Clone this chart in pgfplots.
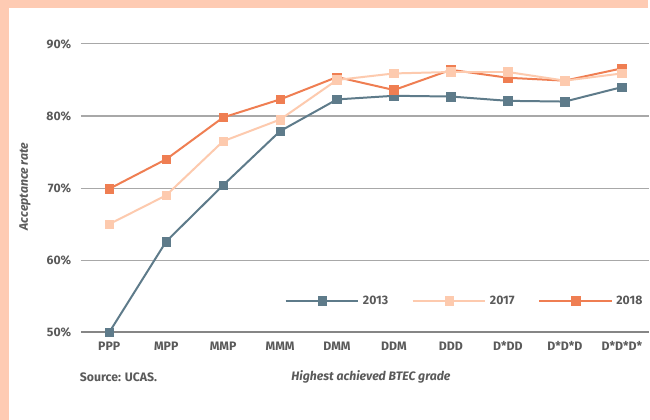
\documentclass[border=0pt]{standalone}
\usepackage{pgfplots}
\pgfplotsset{compat=1.18}
\usepackage{fontspec}
\setmainfont{Fira Sans}
\definecolor{peach}{HTML}{FECBB3}
\definecolor{cA}{HTML}{5E7B8A}
\definecolor{cB}{HTML}{FDCAAE}
\definecolor{cC}{HTML}{EF7E52}
\definecolor{txt}{HTML}{5A5A5A}
\definecolor{grd}{HTML}{A8A8A8}
\newcommand{\fs}{\fontsize{12.3}{14}\selectfont\bfseries}
\begin{document}
\begin{tikzpicture}[x=1pt,y=1pt]
\fill[peach] (0,0) rectangle (650,421);
\fill[white] (9,0) rectangle (650,413);
\begin{axis}[
  at={(81pt,87.7pt)}, anchor=south west,
  scale only axis, width=570pt, height=289.3pt,
  xmin=-0.5, xmax=9.48, ymin=50, ymax=90,
  axis line style={draw=none},
  major tick length=0pt,
  xtick={0,...,9},
  xticklabels={PPP,MPP,MMP,MMM,DMM,DDM,DDD,D*DD,D*D*D,D*D*D*},
  ytick={50,60,70,80,90},
  yticklabels={50\%,60\%,70\%,80\%,90\%},
  ymajorgrids,
  grid style={draw=grd, line width=1.1pt},
  extra y ticks={50}, extra y tick labels={},
  extra y tick style={grid style={draw=grd!80!black, line width=1.8pt}},
  ticklabel style={font=\fs, text=txt},
  yticklabel style={xshift=-6pt},
  xticklabel style={yshift=-6pt},
  clip=false,
  legend columns=3,
  legend style={draw=none, fill=none, at={(1.0,0.109)}, anchor=east,
    font=\fs, text=txt,
    /tikz/every even column/.append style={column sep=20pt},
    nodes={inner sep=3.5pt}},
  legend image code/.code={\draw[mark repeat=2,mark phase=2] plot coordinates {(0pt,0pt)(36.5pt,0pt)(73pt,0pt)};},
  every axis plot/.append style={line width=2pt, mark=square*, mark size=4.3pt},
]
\addplot[cA, mark options={solid, line width=0.5pt}] coordinates {
(0,50.0)(1,62.6)(2,70.4)(3,77.9)(4,82.3)(5,82.8)(6,82.7)(7,82.1)(8,82.0)(9,84.0)};
\addplot[cC, mark options={solid, line width=0.5pt}, forget plot] coordinates {
(0,69.9)(1,74.0)(2,79.8)(3,82.3)(4,85.4)(5,83.6)(6,86.4)(7,85.3)(8,84.9)(9,86.6)};
\addplot[cB, mark options={solid, line width=0.5pt}] coordinates {
(0,65.0)(1,69.0)(2,76.5)(3,79.5)(4,85.0)(5,85.9)(6,86.1)(7,86.1)(8,84.9)(9,85.9)};
\addlegendimage{cC, line width=2pt, mark=square*, mark size=4.3pt, mark options={solid, line width=0.5pt}}
\legend{2013,2017,2018}
\end{axis}
\node[anchor=west, text=txt, font=\fs, inner sep=0pt] at (80,43) {Source: UCAS.};
\node[text=txt, font=\fs\itshape, inner sep=0pt] at (372,43) {Highest achieved BTEC grade};
\node[text=txt, font=\fs\itshape, inner sep=0pt, rotate=90] at (25,234) {Acceptance rate};
\useasboundingbox (0,0) rectangle (650,421);
\end{tikzpicture}
\end{document}
